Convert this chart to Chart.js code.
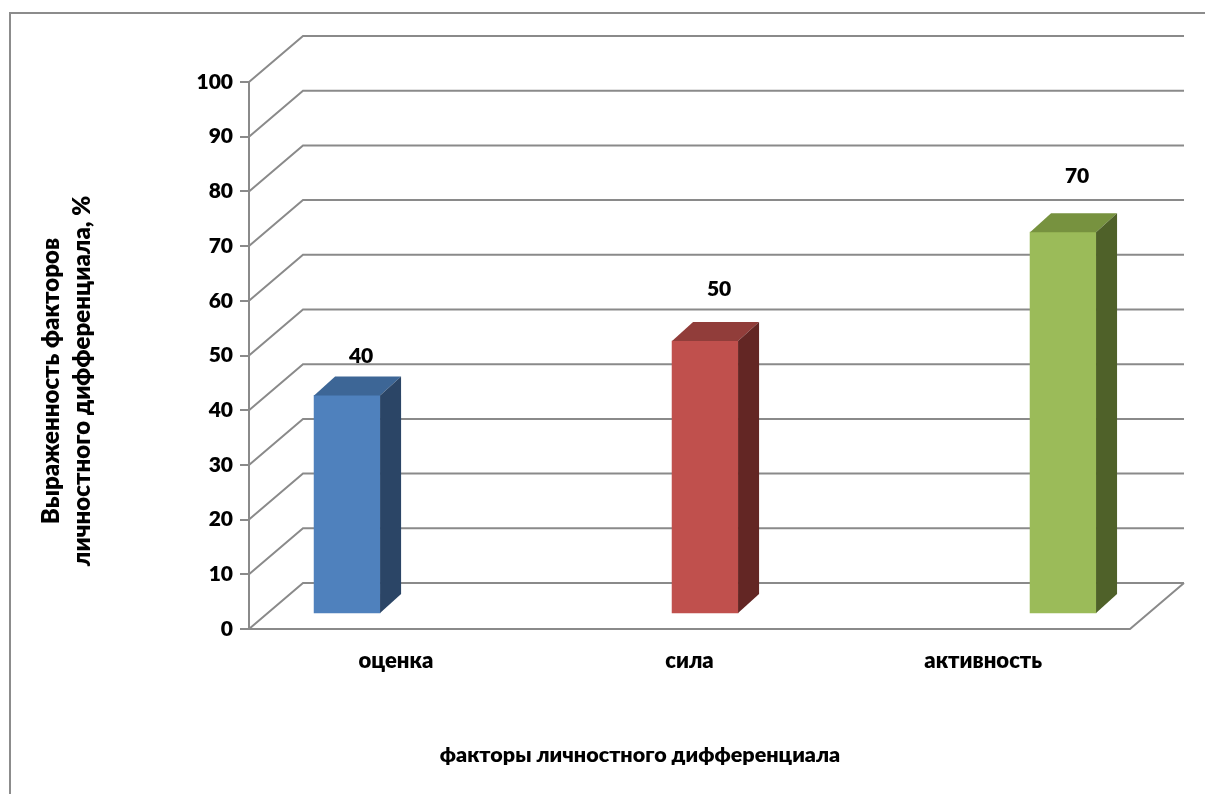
<!DOCTYPE html>
<html lang="ru">
<head>
<meta charset="utf-8">
<title>Факторы личностного дифференциала</title>
<script src="https://cdn.jsdelivr.net/npm/chart.js@4.4.1/dist/chart.umd.min.js"></script>
<style>
  html, body { margin: 0; padding: 0; background: #fff; overflow: hidden; }
  #wrap { position: relative; width: 1205px; height: 794px; }
  #frame { position: absolute; left: 9px; top: 12px; width: 1400px; height: 1000px; border: 2px solid #8c8c8c; }
  canvas { position: absolute; left: 0; top: 0; }
</style>
</head>
<body>
<div id="wrap">
  <div id="frame"></div>
  <canvas id="chart" width="1205" height="794"></canvas>
</div>
<script>
'use strict'

const categories = ['оценка', 'сила', 'активность'];
const factorValues = [40, 50, 70];
const yTicks = [0, 10, 20, 30, 40, 50, 60, 70, 80, 90, 100];
const yTitleLines = ['Выраженность факторов', 'личностного дифференциала, %'];
const xTitle = 'факторы личностного дифференциала';

const frontColors = ['#4f81bd', '#c0504d', '#9bbb59'];
const topColors = ['#3d6696', '#913d3a', '#77923f'];
const sideColors = ['#2b4566', '#632624', '#4f6129'];

const FONT = 'Lato, "Open Sans", sans-serif';
const WEIGHT = 800;
const LINE = '#8a8a8a';

// depth of the walls and of each box
const WALL_DX = 54, WALL_DY = 46;
const BAR_DX = 21, BAR_DY = 19;
// how high each value label sits over the front top edge
const labelLift = [39, 52, 56];

function poly(ctx, pts, color){
  ctx.fillStyle = color;
  ctx.beginPath();
  ctx.moveTo(pts[0][0], pts[0][1]);
  for (let p of pts.slice(1)) ctx.lineTo(p[0], p[1]);
  ctx.closePath();
  ctx.fill();
}

const wallPlugin = {
  id: 'walls',
  beforeDatasetsDraw(chart){
    const {ctx, chartArea} = chart;
    const yScale = chart.scales.y;
    const left = chartArea.left;
    const right = chartArea.right;
    ctx.save();
    ctx.strokeStyle = LINE;
    ctx.lineWidth = 2;
    ctx.beginPath();
    for (let t of yTicks){
      const py = yScale.getPixelForValue(t);
      ctx.moveTo(left, py);
      ctx.lineTo(left + WALL_DX, py - WALL_DY);
      ctx.lineTo(right + WALL_DX, py - WALL_DY);
    }
    // floor: front edge and right edge
    const floorY = yScale.getPixelForValue(yTicks[0]);
    ctx.moveTo(left, floorY);
    ctx.lineTo(right, floorY);
    ctx.lineTo(right + WALL_DX, floorY - WALL_DY);
    ctx.stroke();
    ctx.restore();
  }
};

const boxPlugin = {
  id: 'boxes',
  afterDatasetsDraw(chart){
    const ctx = chart.ctx;
    const meta = chart.getDatasetMeta(0);
    ctx.save();
    meta.data.forEach(function(bar, i){
      const p = bar.getProps(['x', 'y', 'base', 'width'], true);
      const l = p.x - p.width / 2;
      const r = p.x + p.width / 2;
      poly(ctx, [[l, p.y], [r, p.y], [r + BAR_DX, p.y - BAR_DY], [l + BAR_DX, p.y - BAR_DY]], topColors[i]);
      poly(ctx, [[r, p.y], [r + BAR_DX, p.y - BAR_DY], [r + BAR_DX, p.base - BAR_DY], [r, p.base]], sideColors[i]);

      ctx.fillStyle = '#000';
      ctx.font = WEIGHT + ' 21px ' + FONT;
      ctx.textAlign = 'center';
      ctx.textBaseline = 'middle';
      ctx.fillText(String(factorValues[i]), p.x + 14, p.y - labelLift[i]);
    });
    ctx.restore();
  }
};

const titlePlugin = {
  id: 'axisTitles',
  afterDraw(chart){
    const ctx = chart.ctx;
    ctx.save();
    ctx.fillStyle = '#000';
    ctx.font = WEIGHT + ' 21.5px ' + FONT;
    ctx.textAlign = 'center';
    ctx.textBaseline = 'middle';
    ctx.fillText(xTitle, 640, 755);
    ctx.font = WEIGHT + ' 24px ' + FONT;
    ctx.translate(66, 381);
    ctx.rotate(-Math.PI / 2);
    ctx.fillText(yTitleLines[0], 0, -15);
    ctx.fillText(yTitleLines[1], 0, 16);
    ctx.restore();
  }
};

const ctx = document.getElementById('chart').getContext('2d');

const myChart = new Chart(ctx, {
  type: 'bar',
  data: {
    labels: categories,
    datasets: [{
      data: factorValues.map(function(v, i){ return {x: i, y: v}; }),
      backgroundColor: frontColors,
      xAxisID: 'xb',
      yAxisID: 'yb',
      barThickness: 66
    }]
  },
  options: {
    responsive: false,
    animation: false,
    layout: { padding: { left: 0, right: 75, top: 82, bottom: 0 } },
    plugins: {
      legend: { display: false },
      tooltip: { enabled: false }
    },
    scales: {
      x: {
        type: 'category',
        grid: { display: false },
        border: { display: false },
        ticks: { color: '#000', padding: 11, font: { family: FONT, size: 22, weight: WEIGHT } },
        afterFit: function(s){ s.height = 165; }
      },
      // bars stand a little deeper than the axis plane
      xb: { type: 'linear', display: false, offset: false, grid: { offset: false }, min: -0.274, max: 2.187 },
      yb: { type: 'linear', display: false, min: -2.94, max: 97.6 },
      y: {
        min: yTicks[0],
        max: yTicks[yTicks.length - 1],
        ticks: { stepSize: 10, color: '#000', padding: 7, font: { family: FONT, size: 21, weight: WEIGHT } },
        grid: { drawOnChartArea: false, tickLength: 9, color: LINE, lineWidth: 2 },
        border: { color: LINE, width: 2 },
        afterFit: function(s){ s.width = 249; }
      }
    }
  },
  plugins: [wallPlugin, boxPlugin, titlePlugin]
});
</script>
</body>
</html>
